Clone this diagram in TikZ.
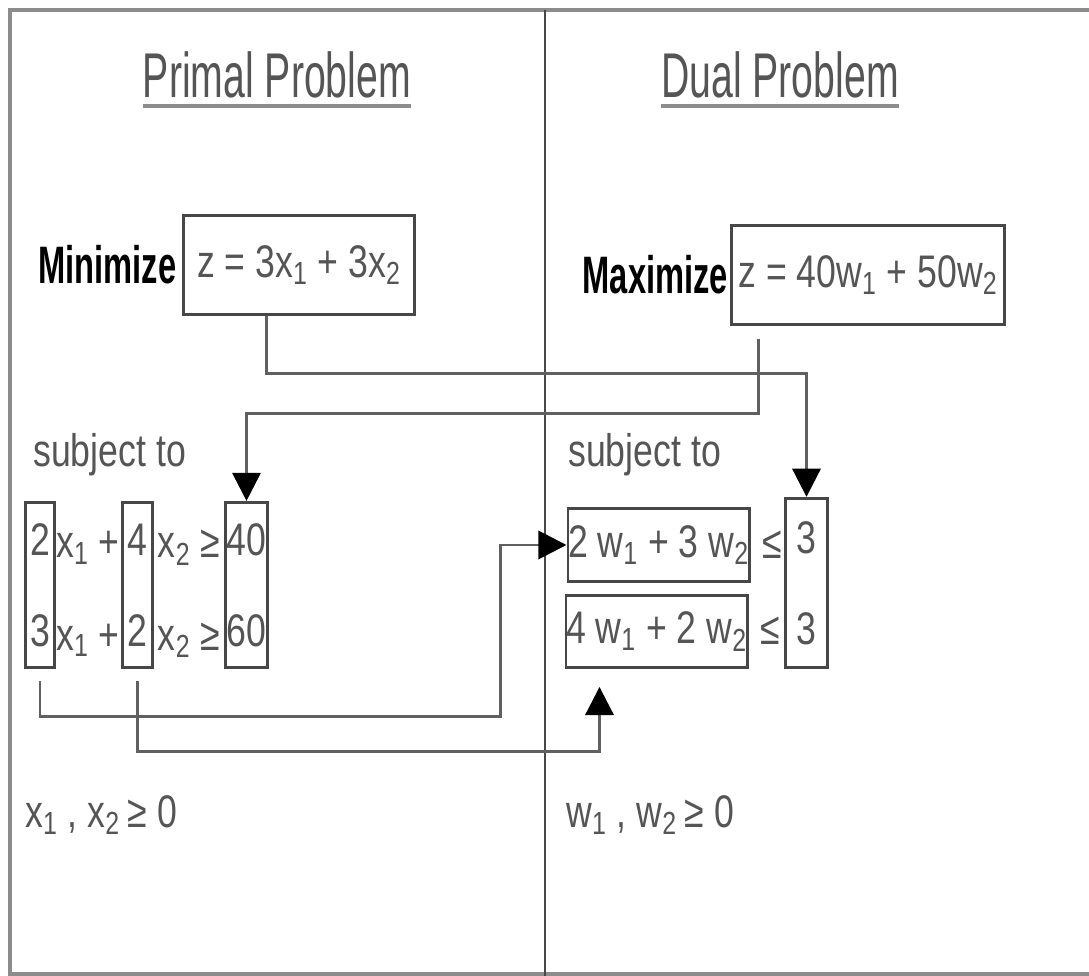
\documentclass[tikz,border=0pt]{standalone}
\usepackage{fontspec}
\setmainfont{Liberation Sans}[FakeStretch=0.78]
\newfontfamily\narrowfont{Liberation Sans}[FakeStretch=0.62]
\usetikzlibrary{arrows.meta,positioning,calc}
\definecolor{frame}{HTML}{8C8C8C}
\definecolor{edge}{HTML}{474747}
\definecolor{ink}{HTML}{555555}
\definecolor{wire}{HTML}{606060}

\begin{document}
\begin{tikzpicture}[
    x=0.02cm, y=-0.02cm,
    box/.style={draw=edge,line width=1.7pt,inner sep=0pt,align=center,text=ink,font=\fontsize{26}{52}\selectfont},
    txt/.style={inner sep=0pt,text=ink,font=\fontsize{26}{30}\selectfont},
    head/.style={inner sep=0pt,text=ink,font=\narrowfont\fontsize{36}{40}\selectfont},
    goal/.style={inner sep=0pt,font=\narrowfont\bfseries\fontsize{30}{34}\selectfont},
    conn/.style={draw=wire,line width=1.7pt,-{Triangle[length=16pt,width=16pt,color=black]}},
    rule/.style={draw=frame,line width=2.3pt}
]
\useasboundingbox (0,0) rectangle (1089,976);

% frame and divider
\draw[rule] (1095,10) -| (10,974) -- (1095,974);
\draw[draw=edge,line width=1.5pt] (545,10) -- (545,976);

% headings
\node[head] (ptitle) at (277,75) {Primal Problem};
\node[head] (dtitle) at (780,75) {Dual Problem};
\draw[rule] ([yshift=-4pt]ptitle.south west) -- ([yshift=-4pt]ptitle.south east);
\draw[rule] ([yshift=-4pt]dtitle.south west) -- ([yshift=-4pt]dtitle.south east);

% objectives
\node[box,minimum width=131.5pt,minimum height=56.7pt] (pobj) at (299,265) {z = 3x\textsubscript{1} + 3x\textsubscript{2}};
\node[goal,left=3pt of pobj] (pmin) {Minimize};
\node[box,minimum width=155.3pt,minimum height=56.7pt] (dobj) at (868,275) {z = 40w\textsubscript{1} + 50w\textsubscript{2}};
\node[goal,left=1pt of dobj] (dmax) {Maximize};

\node[txt,anchor=west] (psubj) at (33,455) {subject to};
\node[txt,anchor=west] (dsubj) at (568,455) {subject to};

% primal constraints
\node[box,minimum width=17pt,minimum height=94pt] (pc1) at (40,585) {2\\3};
\node[box,minimum width=17.6pt,minimum height=94pt] (pc2) at (137.5,585) {4\\2};
\node[box,minimum width=24.4pt,minimum height=94pt] (pc3) at (246.5,585) {40\\60};
\node[txt,anchor=base] (px1a) at (88,558) {x\textsubscript{1} +};
\node[txt,anchor=base] (px1b) at (88,650) {x\textsubscript{1} +};
\node[txt,anchor=base] (px2a) at (189,558) {x\textsubscript{2} ≥};
\node[txt,anchor=base] (px2b) at (189,650) {x\textsubscript{2} ≥};

% dual constraints
\node[box,minimum width=102.6pt,minimum height=42pt] (dr1) at (658.5,545) {2 w\textsubscript{1} + 3 w\textsubscript{2}};
\node[box,minimum width=100.3pt,minimum height=41.4pt] (dr2) at (656.5,631.5) {4 w\textsubscript{1} + 2 w\textsubscript{2}};
\node[txt] (dle1) at (772,545) {≤};
\node[txt] (dle2) at (770,631) {≤};
\node[box,minimum width=24.4pt,minimum height=96.4pt] (dc) at (806.5,583) {3\\3};

% sign restrictions
\node[txt,anchor=west] (pnn) at (25,815) {x\textsubscript{1} , x\textsubscript{2}\,≥ 0};
\node[txt,anchor=west] (dnn) at (566,815) {w\textsubscript{1} , w\textsubscript{2}\,≥ 0};

% connectors
\draw[conn] ($(pobj.south west)+(85,0)$) |- ($(dc.north)+(0,-123)$) -- (dc.north);
\draw[conn,shorten <=7pt] ($(dobj.south west)+(28,0)$) |- ($(pc3.north)+(0,-87)$) -- (pc3.north);
\draw[conn,shorten <=7pt] (pc1.south) -- ++(0,47) -| ($(dr1.west)+(-66,0)$) -- (dr1.west);
\draw[conn,shorten <=7pt,shorten >=10pt] (pc2.south) -- ++(0,82) -| ($(dr2.south)+(-57,0)$);
\end{tikzpicture}
\end{document}
